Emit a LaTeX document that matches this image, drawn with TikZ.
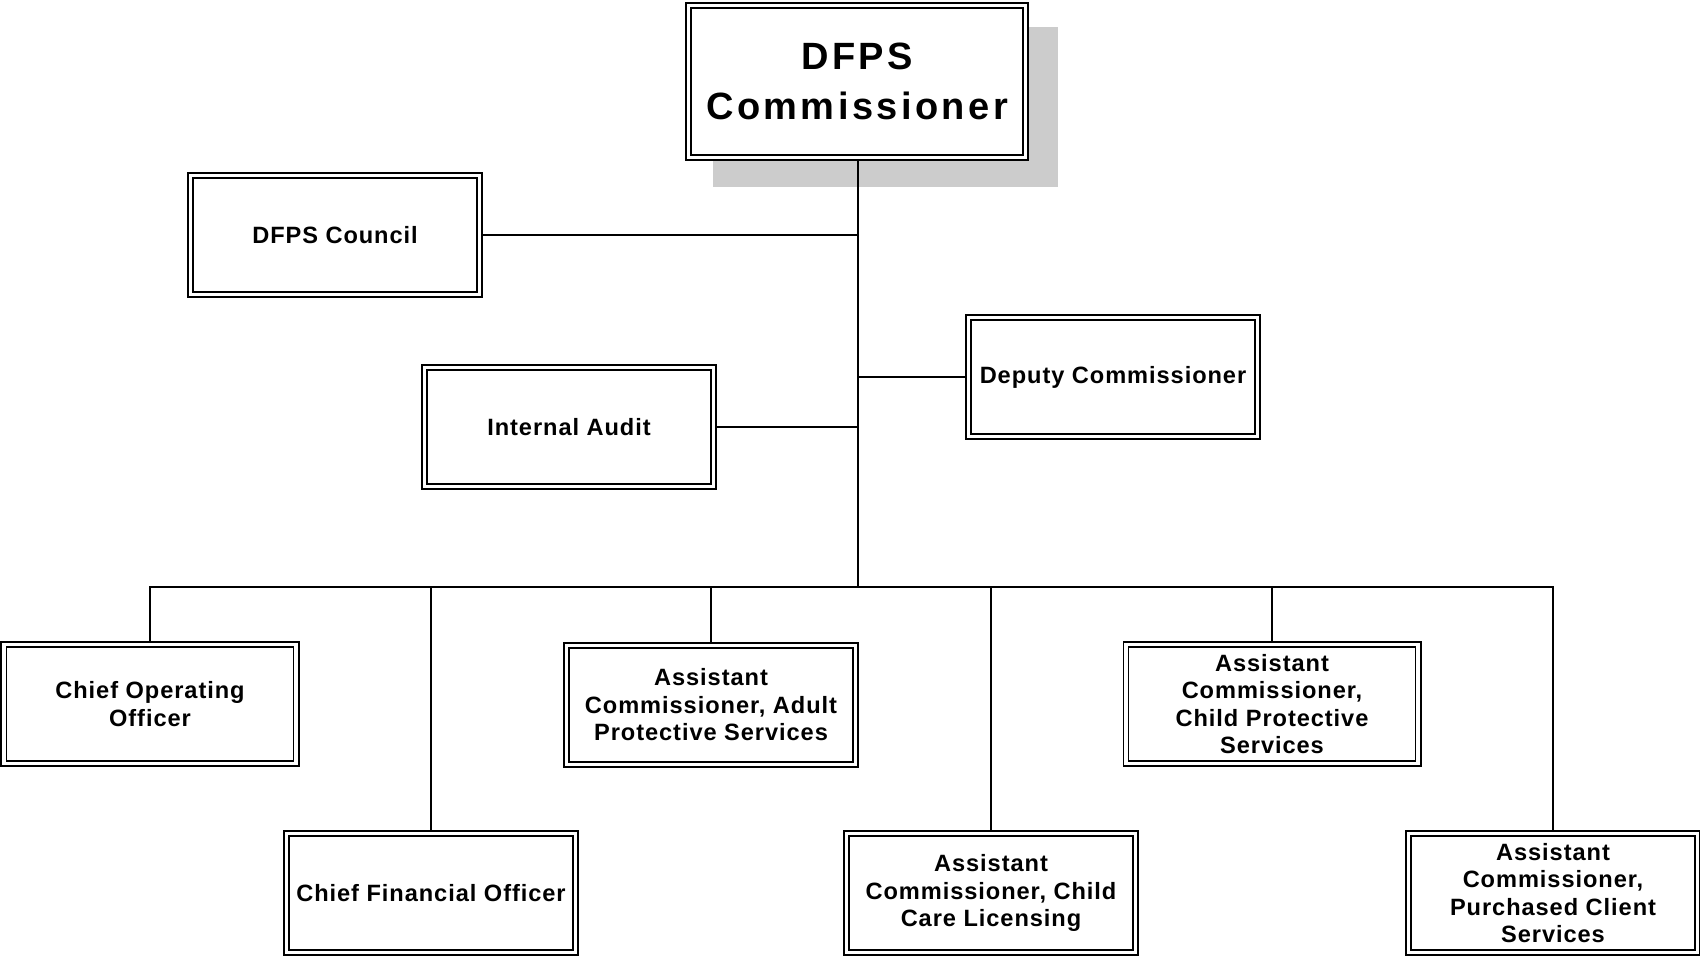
\documentclass[tikz,border=0pt]{standalone}
\usepackage{fontspec}
\setmainfont{Liberation Sans}[LetterSpace=4]
\newfontfamily\bigfont{Liberation Sans}[LetterSpace=9]
\usetikzlibrary{backgrounds}
\definecolor{shadowgray}{HTML}{CCCCCC}
\tikzset{
  box/.style={draw, double=white, double distance=3.5pt, line width=1.6pt, fill=white,
    minimum width=289.3pt, minimum height=119.3pt, inner sep=0pt, align=center,
    font=\bfseries\fontsize{23.6}{27.5}\selectfont},
  widebox/.style={box, minimum width=292.3pt},
  bigbox/.style={box, minimum width=337.3pt, minimum height=152.3pt,
    font=\bigfont\bfseries\fontsize{38}{50}\selectfont},
  link/.style={draw, line width=1.3pt}
}
\begin{document}
\begin{tikzpicture}[x=1pt, y=-1pt]
\useasboundingbox (0,0) rectangle (1700,956);
\node[bigbox] (comm) at (857,81.5) {DFPS\\Commissioner};
\node[box] (council) at (335,235) {DFPS Council};
\node[box] (deputy) at (1113,377) {Deputy Commissioner};
\node[box] (audit) at (569,427) {Internal Audit};
\node[widebox] (coo) at (150,704) {Chief Operating\\Officer};
\node[box] (cfo) at (431,893) {Chief Financial Officer};
\node[box] (aps) at (711,705) {Assistant\\Commissioner, Adult\\Protective Services};
\node[box] (ccl) at (991,893) {Assistant\\Commissioner, Child\\Care Licensing};
\node[widebox] (cps) at (1272,704) {Assistant\\Commissioner,\\Child Protective\\Services};
\node[box] (pcs) at (1553,893) {Assistant\\Commissioner,\\Purchased Client\\Services};
\coordinate (bus) at (858,587);
\begin{pgfonlayer}{background}
\fill[shadowgray] (713,27) rectangle (1058,187);
\path[link] (comm.south -| bus) -- (bus);
\path[link] (council.east) -- (council.east -| bus);
\path[link] (deputy.west -| bus) -- (deputy.west);
\path[link] (audit.east) -- (audit.east -| bus);
\path[link] (coo.north) -- (coo.north |- bus) -- (pcs.north |- bus) -- (pcs.north);
\path[link] (cfo.north |- bus) -- (cfo.north);
\path[link] (aps.north |- bus) -- (aps.north);
\path[link] (ccl.north |- bus) -- (ccl.north);
\path[link] (cps.north |- bus) -- (cps.north);
\end{pgfonlayer}
\end{tikzpicture}
\end{document}
